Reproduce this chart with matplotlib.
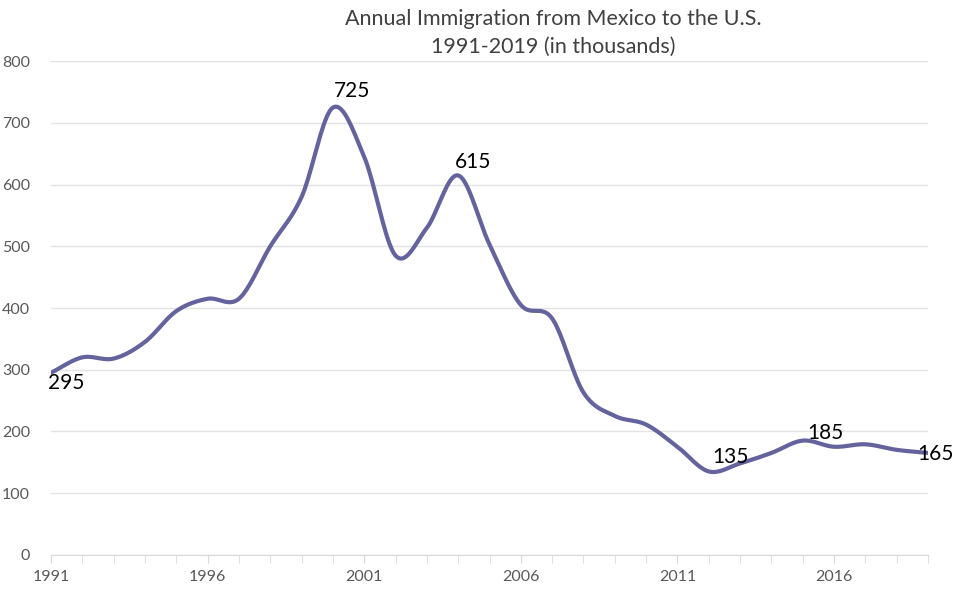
import numpy as np
import matplotlib.pyplot as plt
from matplotlib.ticker import MultipleLocator

plt.rcParams['font.family'] = ['Lato', 'DejaVu Sans']

############ Data ##############
years = list(range(1991, 2020))
immig = [295, 320, 318, 345, 395, 415, 415, 500, 580, 725,
         645, 485, 530, 615, 503, 405, 383, 263, 225, 211,
         175, 135, 148, 165, 185, 175, 179, 170, 165]
label_years = [1991, 2000, 2004, 2012, 2015, 2019]
label_offsets = [(15, -10), (19, 17), (15, 13), (22, 14), (23, 8), (7, -1)]  # pixels


def smooth(x, y, n=20):
    # catmull-rom curve through the points, like excel's smoothed line
    x = np.asarray(x, float)
    y = np.asarray(y, float)
    px = np.concatenate([[2*x[0]-x[1]], x, [2*x[-1]-x[-2]]])
    py = np.concatenate([[2*y[0]-y[1]], y, [2*y[-1]-y[-2]]])
    t = np.linspace(0, 1, n, endpoint=False)
    xs, ys = [], []
    for i in range(1, len(px)-2):
        for p, out in ((px, xs), (py, ys)):
            p0, p1, p2, p3 = p[i-1], p[i], p[i+1], p[i+2]
            out.extend(0.5*((2*p1) + (-p0+p2)*t + (2*p0-5*p1+4*p2-p3)*t**2
                            + (-p0+3*p1-3*p2+p3)*t**3))
    xs.append(x[-1])
    ys.append(y[-1])
    return np.array(xs), np.array(ys)


############ Plot ##################
fig = plt.figure(figsize=(9.55, 5.9), dpi=100)
ax = fig.add_axes([51/955, 1-554.7/590, (928-51)/955, (554.7-61.3)/590])

sx, sy = smooth(years, immig)
ax.plot(sx, sy, color='#65639e', linewidth=3, solid_capstyle='round', zorder=3)

for yr, (dx, dy) in zip(label_years, label_offsets):
    v = immig[years.index(yr)]
    ax.annotate(str(v), (yr, v), xytext=(dx, dy), textcoords='offset pixels',
                ha='center', va='center', fontsize=15, color='black',
                zorder=5, annotation_clip=False)

ax.set_xlim(1991, 2019)
ax.set_ylim(0, 800)
ax.yaxis.set_major_locator(MultipleLocator(100))
ax.set_xticks(range(1991, 2020, 5))
ax.xaxis.set_minor_locator(MultipleLocator(1))
ax.grid(axis='y', color='#e3e3e3', linewidth=1)
ax.set_axisbelow(True)
for s in ['top', 'right', 'left']:
    ax.spines[s].set_visible(False)
ax.spines['bottom'].set_color('#d9d9d9')
ax.tick_params(axis='y', length=0, labelsize=11.5, labelcolor='#595959', pad=15)
ax.tick_params(axis='x', which='both', length=6, color='#d9d9d9',
               labelsize=11.5, labelcolor='#595959', pad=5)

fig.text(553/955, 1-33/590, 'Annual Immigration from Mexico to the U.S.\n1991-2019 (in thousands)',
         ha='center', va='center', fontsize=15.5, color='#404040', linespacing=1.5)

plt.savefig('out.png')
